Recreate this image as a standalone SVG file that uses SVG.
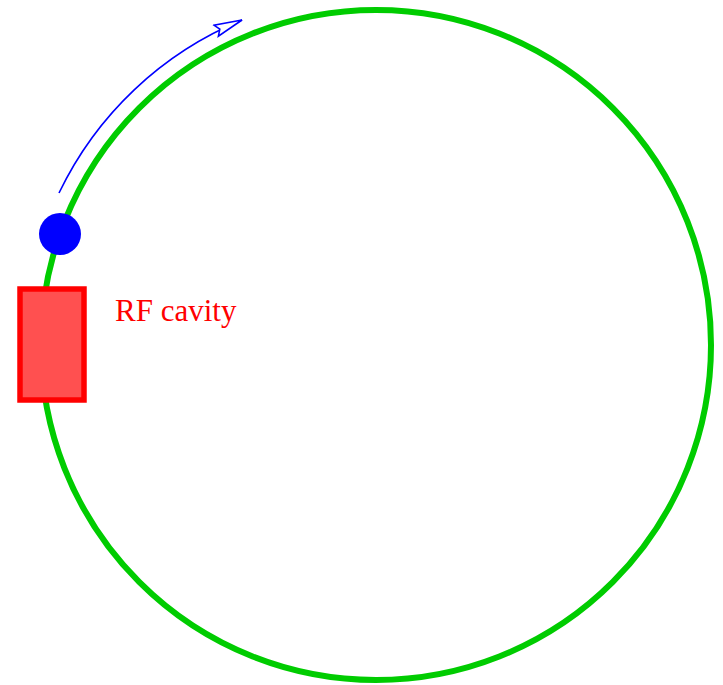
<svg xmlns="http://www.w3.org/2000/svg" width="723" height="685" viewBox="0 0 723 685">
<defs>
<marker id="ah" markerUnits="userSpaceOnUse" markerWidth="40" markerHeight="20" refX="30" refY="7" orient="auto" viewBox="0 0 40 20">
<path d="M30,7 L2,1 L6,7 L2,13 Z" fill="#ffffff" stroke="#0000ff" stroke-width="1.6" stroke-linejoin="miter"/>
</marker>
</defs>
<style>
.ring{fill:none;stroke:#00cc00;stroke-width:6}
.cav{fill:#ff5050;stroke:#ff0000;stroke-width:5.5}
.lbl{font-family:"Liberation Serif","Times New Roman",serif;font-size:31px;fill:#ff0000}
.path{fill:none;stroke:#0000ff;stroke-width:1.6}
</style>
<rect width="723" height="685" fill="#ffffff"/>
<g id="ring"><circle class="ring" cx="376" cy="345" r="335"/></g>
<g id="cavity">
<rect class="cav" x="20" y="289" width="64" height="111"/>
<text class="lbl" x="115" y="321">RF cavity</text>
</g>
<g id="particle"><circle cx="60" cy="234" r="21" fill="#0000ff"/></g>
<g id="connectors">
<path class="path" d="M59,193 A351.5,351.5 0 0 1 242,20" marker-end="url(#ah)"/>
</g>
</svg>
